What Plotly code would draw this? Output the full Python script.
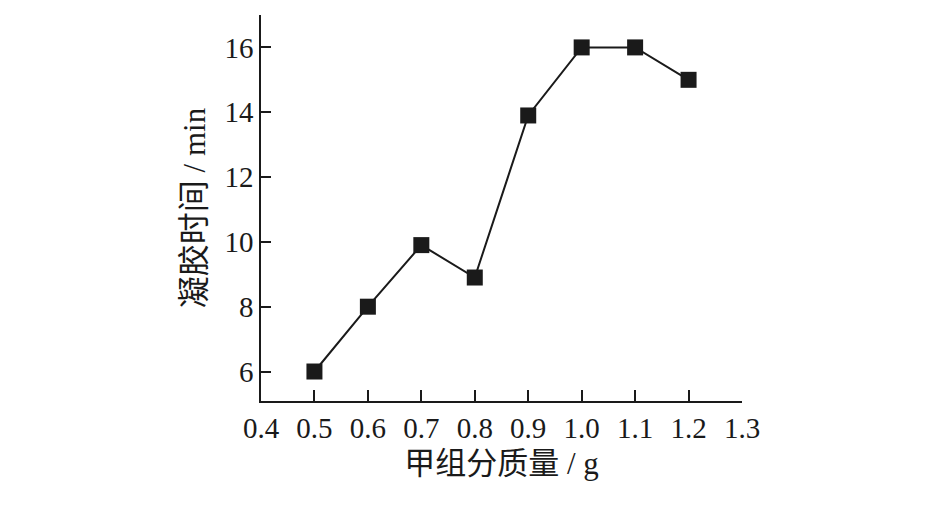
import plotly.graph_objects as go

mass_g = [0.5, 0.6, 0.7, 0.8, 0.9, 1.0, 1.1, 1.2]
gel_time_min = [6.0, 8.0, 9.9, 8.9, 13.9, 16.0, 16.0, 15.0]

x_tickvals = [0.4, 0.5, 0.6, 0.7, 0.8, 0.9, 1.0, 1.1, 1.2, 1.3]
x_ticktext = ["0.4", "0.5", "0.6", "0.7", "0.8", "0.9", "1.0", "1.1", "1.2", "1.3"]
y_tickvals = [6, 8, 10, 12, 14, 16, 17]
y_ticktext = ["6", "8", "10", "12", "14", "16", ""]

x_title_cjk, x_title_unit = "甲组分质量", " / g"
y_title_cjk, y_title_unit = "凝胶时间", " / min"

font_fam = "Liberation Serif, Noto Sans CJK SC, serif"


def mixed_title(cjk, unit, cjk_size):
    return f'<span style="font-size:{cjk_size}px">{cjk}</span>{unit}'


fig = go.Figure(
    go.Scatter(
        x=mass_g,
        y=gel_time_min,
        mode="lines+markers",
        line=dict(color="#1a1a1a", width=2),
        marker=dict(symbol="square", size=16, color="#1a1a1a"),
        showlegend=False,
    )
)

fig.update_layout(
    width=945,
    height=508,
    margin=dict(l=253, r=211, t=7, b=115),
    paper_bgcolor="white",
    plot_bgcolor="white",
    font=dict(family=font_fam, size=29, color="#1a1a1a"),
)

fig.update_xaxes(
    range=[0.4, 1.3],
    tickvals=x_tickvals,
    ticktext=x_ticktext,
    ticks="inside",
    ticklen=11,
    tickwidth=1.5,
    tickcolor="#1a1a1a",
    showline=True,
    linecolor="#1a1a1a",
    linewidth=1.5,
    showgrid=False,
    zeroline=False,
    tickfont=dict(size=29),
    title=dict(text=mixed_title(x_title_cjk, x_title_unit, 31), font=dict(size=31), standoff=10),
)

fig.update_yaxes(
    range=[5.09, 17.0],
    tickvals=y_tickvals,
    ticktext=y_ticktext,
    ticks="inside",
    ticklen=10,
    tickwidth=1.5,
    tickcolor="#1a1a1a",
    showline=True,
    linecolor="#1a1a1a",
    linewidth=1.5,
    showgrid=False,
    zeroline=False,
    tickfont=dict(size=29),
    title=dict(text=mixed_title(y_title_cjk, y_title_unit, 32), font=dict(size=31), standoff=10),
)

fig.write_html("out.html")
